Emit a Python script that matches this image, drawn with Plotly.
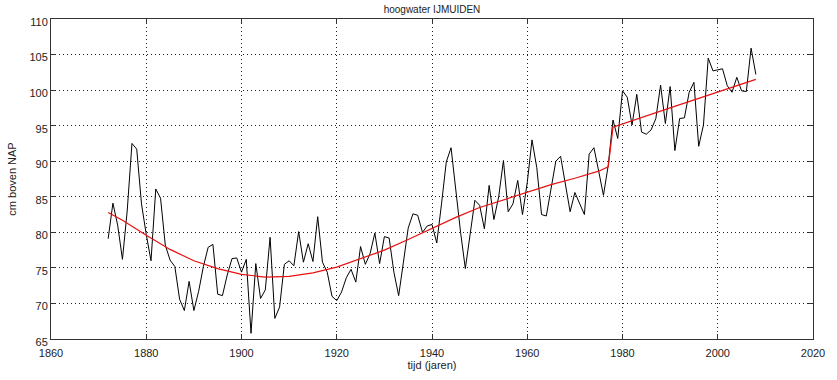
import plotly.graph_objects as go

years = list(range(1872, 2009))
high_water = [
    79.1, 84.1, 81.0, 76.2, 83.0, 92.5, 91.7, 84.0, 79.7, 76.0,   # 1872-1881
    86.1, 84.8, 78.2, 76.1, 75.2, 70.6, 69.0, 73.1, 69.0, 71.7,   # 1882-1891
    75.2, 77.9, 78.3, 71.3, 71.1, 74.0, 76.3, 76.4, 74.4, 76.2,   # 1892-1901
    65.8, 75.6, 70.7, 71.9, 79.3, 67.9, 69.5, 75.5, 76.0, 75.3,   # 1902-1911
    80.1, 75.8, 78.4, 75.9, 82.2, 75.8, 74.4, 71.0, 70.4, 71.6,   # 1912-1921
    73.6, 74.8, 73.0, 78.0, 75.5, 77.0, 79.9, 75.6, 79.4, 79.2,   # 1922-1931
    74.4, 71.1, 75.8, 80.6, 82.6, 82.4, 80.0, 80.9, 81.1, 78.5,   # 1932-1941
    84.0, 89.9, 91.9, 85.5, 80.0, 74.9, 80.0, 84.5, 83.8, 80.5,   # 1942-1951
    86.6, 81.8, 85.0, 90.1, 82.9, 84.0, 87.3, 82.5, 87.0, 93.0,   # 1952-1961
    89.1, 82.5, 82.3, 85.9, 90.0, 90.7, 86.8, 82.9, 85.6, 84.0,   # 1962-1971
    82.5, 91.0, 91.9, 88.6, 85.2, 89.4, 95.8, 93.2, 99.9, 99.0,   # 1972-1981
    95.1, 99.4, 94.1, 93.8, 94.4, 96.0, 100.7, 95.3, 100.5, 91.5, # 1982-1991
    96.0, 96.1, 99.7, 101.1, 92.1, 95.1, 104.5, 102.7, 102.8, 103.0,  # 1992-2001
    100.6, 99.7, 101.8, 99.9, 99.8, 105.9, 102.2,                 # 2002-2008
]

trend_years = [1872, 1875, 1880, 1885, 1890, 1895, 1900, 1905, 1910, 1915,
               1920, 1925, 1930, 1935, 1940, 1945, 1950, 1955, 1960, 1965,
               1970, 1975, 1977, 1978, 1990, 2000, 2008]
trend_values = [82.8, 81.7, 79.6, 77.6, 76.0, 74.9, 74.1, 73.7, 73.8, 74.3,
                75.1, 76.3, 77.5, 79.0, 80.6, 82.1, 83.5, 84.6, 85.7, 86.7,
                87.6, 88.6, 89.2, 94.8, 97.5, 99.7, 101.5]

x_ticks = [1860, 1880, 1900, 1920, 1940, 1960, 1980, 2000, 2020]
y_ticks = [65, 70, 75, 80, 85, 90, 95, 100, 105, 110]

FONT = "Liberation Sans, Arial, sans-serif"

fig = go.Figure()
fig.add_trace(go.Scatter(x=years, y=high_water, mode="lines",
                         line=dict(color="black", width=1), showlegend=False))
fig.add_trace(go.Scatter(x=trend_years, y=trend_values, mode="lines",
                         line=dict(color="#e81010", width=1.2), showlegend=False))

axis_common = dict(
    showline=True, linecolor="#333333", linewidth=1, mirror="all",
    ticks="inside", ticklen=5, tickcolor="#333333",
    showgrid=True, gridcolor="#222222", griddash="1px,3px", gridwidth=1,
    zeroline=False,
    tickfont=dict(family=FONT, size=11, color="#222222"),
)

fig.update_xaxes(range=[1860, 2020], tickvals=x_ticks, ticklabelstandoff=4,
                 title=dict(text="tijd (jaren)", standoff=1,
                            font=dict(family=FONT, size=11, color="#222222")),
                 **axis_common)
fig.update_yaxes(range=[65, 110], tickvals=y_ticks, ticklabelshift=3,
                 title=dict(text="cm boven NAP", standoff=10,
                            font=dict(family=FONT, size=11, color="#222222")),
                 **axis_common)

fig.update_layout(
    width=837, height=380,
    margin=dict(l=51, r=12, t=19, b=35),
    paper_bgcolor="white", plot_bgcolor="white",
    title=dict(text="hoogwater IJMUIDEN", x=0.5, xanchor="center", y=0.985, yanchor="top",
               xref="paper",
               font=dict(family=FONT, size=10, color="#222222")),
)

fig.write_html("out.html")
